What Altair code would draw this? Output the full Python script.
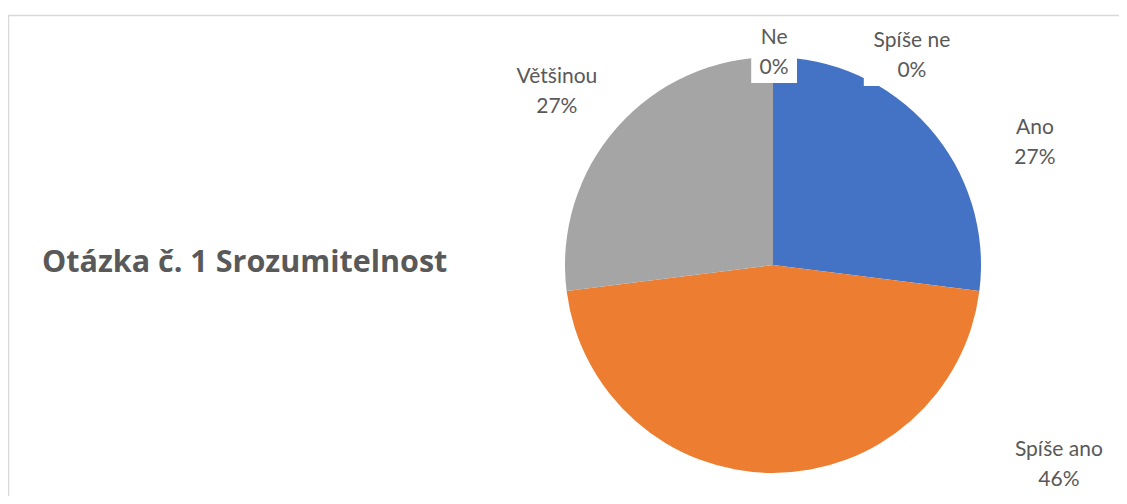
import math
import altair as alt
import pandas as pd

# ---- data ----
categories = ["Ano", "Spíše ano", "Většinou", "Spíše ne", "Ne"]
shares = [27, 46, 27, 0, 0]
colors = ["#4472C4", "#ED7D31", "#A5A5A5", "#FFC000", "#5B9BD5"]
title_text = "Otázka č. 1 Srozumitelnost"

# ---- label layout (polar, relative to pie centre: degrees clockwise from top, pixels) ----
label_angle = [65.0, 125.0, 308.7, 33.6, 0.3]
label_radius = [289, 349, 277, 251, 212]

W, H = 1111, 481
CX, CY, R = 765, 250, 208
LINE_H = 30
BOX_H = 60
TEXT_COLOR = "#595959"

df = pd.DataFrame({
    "category": categories,
    "share": shares,
    "idx": list(range(len(categories))),
})
df["label"] = [f"{c}\n{s}%" for c, s in zip(categories, shares)]
cx_l = [CX + r * math.sin(math.radians(a)) for a, r in zip(label_angle, label_radius)]
cy_l = [CY - r * math.cos(math.radians(a)) for a, r in zip(label_angle, label_radius)]
df["lx"] = cx_l
df["ly"] = [y - LINE_H / 2 for y in cy_l]
# white label boxes (as in Excel data labels), sized from the label text
bw = [8.4 * max(len(c), len(f"{s}%")) + 29 for c, s in zip(categories, shares)]
df["bx1"] = [x - w / 2 for x, w in zip(cx_l, bw)]
df["bx2"] = [x + w / 2 for x, w in zip(cx_l, bw)]
df["by1"] = [y - BOX_H / 2 for y in cy_l]
df["by2"] = [y + BOX_H / 2 for y in cy_l]

base = alt.Chart(df)

pie = base.mark_arc(x=CX, y=CY, outerRadius=R).encode(
    theta=alt.Theta("share:Q", stack=True),
    color=alt.Color("category:N", scale=alt.Scale(domain=categories, range=colors), legend=None),
    order=alt.Order("idx:Q"),
)

boxes = base.mark_rect(color="white").encode(
    x=alt.X("bx1:Q", scale=None, axis=None),
    x2="bx2:Q",
    y=alt.Y("by1:Q", scale=None, axis=None),
    y2="by2:Q",
)

labels = base.mark_text(
    font="Lato", fontSize=21, color=TEXT_COLOR, lineBreak="\n", lineHeight=LINE_H,
    align="center", baseline="middle",
).encode(
    x=alt.X("lx:Q", scale=None, axis=None),
    y=alt.Y("ly:Q", scale=None, axis=None),
    text="label:N",
)

title = alt.Chart(pd.DataFrame({"t": [title_text]})).mark_text(
    font="Open Sans", fontSize=30.5, fontWeight="bold", color=TEXT_COLOR,
    align="left", baseline="middle",
).encode(text="t:N", x=alt.value(34), y=alt.value(248))

frame_df = pd.DataFrame({"k": [0]})
top_rule = alt.Chart(frame_df).mark_rule(color="#d9d9d9", strokeWidth=1.5).encode(
    x=alt.value(0), x2=alt.value(W), y=alt.value(0.5)
)
left_rule = alt.Chart(frame_df).mark_rule(color="#d9d9d9", strokeWidth=1.5).encode(
    x=alt.value(0.5), y=alt.value(0), y2=alt.value(H + 10)
)

chart = alt.layer(top_rule, left_rule, pie, boxes, labels, title).properties(
    width=W, height=H,
    padding={"left": 0, "top": 7, "right": 0, "bottom": 0},
    autosize="none",
).configure_view(stroke=None)

chart.save("out.html", embed_options={"renderer": "svg", "actions": False})
